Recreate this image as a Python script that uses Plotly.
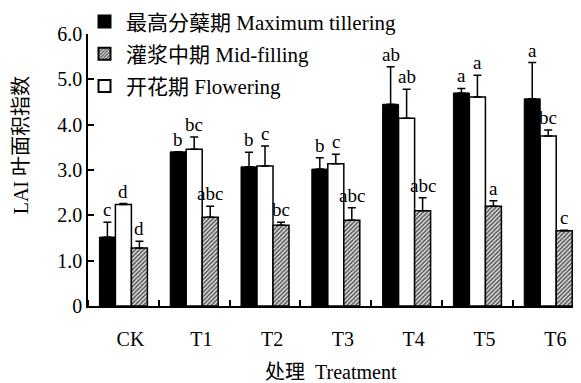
import plotly.graph_objects as go

categories = ["CK", "T1", "T2", "T3", "T4", "T5", "T6"]

tillering = [1.52, 3.40, 3.07, 3.02, 4.45, 4.70, 4.57]
tillering_err = [0.33, 0.0, 0.32, 0.25, 0.83, 0.10, 0.80]
tillering_sig = ["c", "b", "b", "b", "ab", "a", "a"]

flowering = [2.24, 3.46, 3.09, 3.14, 4.14, 4.61, 3.75]
flowering_err = [0.02, 0.27, 0.44, 0.21, 0.64, 0.48, 0.13]
flowering_sig = ["d", "bc", "c", "c", "ab", "a", "bc"]

filling = [1.28, 1.96, 1.78, 1.89, 2.10, 2.20, 1.66]
filling_err = [0.15, 0.24, 0.07, 0.28, 0.29, 0.12, 0.01]
filling_sig = ["d", "abc", "bc", "abc", "abc", "a", "c"]

y_ticks = [0, 1, 2, 3, 4, 5, 6]
y_ticktext = ["0", "1.0", "2.0", "3.0", "4.0", "5.0", "6.0"]

FONT = '"Liberation Serif", "Noto Sans CJK SC", serif'
xs = list(range(len(categories)))
BW = 0.226
offsets = [-BW, 0.0, BW]

# page has an 8px body margin; figure coords = page coords - 8
OFF = 8
PL, PT, PB = 88 - OFF, 33.7 - OFF, 305.7 - OFF
W, H = 581 - OFF, 383 - OFF
PW, PH = W - PL, PB - PT

fig = go.Figure()

series = [
    ("最高分蘖期 Maximum tillering", tillering, tillering_err, tillering_sig,
     dict(color="black", line=dict(color="black", width=1)), 1),
    ("开花期 Flowering", flowering, flowering_err, flowering_sig,
     dict(color="white", line=dict(color="black", width=1.5)), 3),
    ("灌浆中期 Mid-filling", filling, filling_err, filling_sig,
     dict(color="white", line=dict(color="black", width=1.5),
          pattern=dict(shape="/", size=3, solidity=0.5, fgcolor="#555555",
                       bgcolor="#e0e0e0", fillmode="replace")), 2),
]

for k, (name, vals, errs, sigs, marker, rank) in enumerate(series):
    fig.add_trace(go.Bar(
        x=[x + offsets[k] for x in xs], y=vals, width=BW, name=name,
        marker=marker, legendrank=rank, legendgroup=str(rank),
        error_y=dict(type="data", array=errs, arrayminus=[0] * len(errs),
                     symmetric=False, color="black", thickness=1.5, width=4),
    ))
    for x, v, e, s in zip(xs, vals, errs, sigs):
        fig.add_annotation(x=x + offsets[k], y=v + e, text=s, showarrow=False,
                           yanchor="bottom", yshift=0,
                           font=dict(family=FONT, size=19, color="black"))

fig.update_layout(
    width=W, height=H,
    margin=dict(l=PL, r=0, t=PT, b=H - PB, pad=0, autoexpand=False),
    plot_bgcolor="white", paper_bgcolor="white",
    barmode="overlay",
    showlegend=True,
    legend=dict(x=-5 / PW, y=(PB + 7) / PH, xanchor="left", yanchor="top",
                font=dict(family=FONT, size=21, color="black"),
                bgcolor="rgba(0,0,0,0)", tracegroupgap=2, itemwidth=33,
                itemsizing="constant"),
    font=dict(family=FONT, size=19, color="black"),
)

fig.update_xaxes(
    range=[-0.5, 6.463],
    tickmode="array", tickvals=[x + 0.1 for x in xs], ticktext=categories,
    ticks="", ticklabelstandoff=14,
    minor=dict(tick0=0.5, dtick=1, ticks="inside", ticklen=6,
               tickcolor="black", tickwidth=1.5, showgrid=False),
    showline=True, linecolor="black", linewidth=1.5,
    showgrid=False, zeroline=False,
    tickfont=dict(family=FONT, size=20, color="black"),
)
fig.update_yaxes(
    range=[0, 6], tickmode="array", tickvals=y_ticks, ticktext=y_ticktext,
    ticks="inside", ticklen=6, tickcolor="black", tickwidth=1.5,
    showline=True, linecolor="black", linewidth=1.5,
    showgrid=False, zeroline=False,
    tickfont=dict(family=FONT, size=20, color="black"),
)

fig.add_annotation(xref="paper", yref="paper", x=(21 - OFF - PL) / PW, y=(PB - (145 - OFF)) / PH,
                   xanchor="center", yanchor="middle",
                   text="LAI 叶面积指数", textangle=-90, showarrow=False,
                   font=dict(family=FONT, size=20, color="black"))
fig.add_annotation(xref="paper", yref="paper", x=(331 - OFF - PL) / PW, y=(PB - (372 - OFF)) / PH,
                   xanchor="center", yanchor="middle",
                   text="处理  Treatment", showarrow=False,
                   font=dict(family=FONT, size=20, color="black"))

fig.write_html("out.html")
